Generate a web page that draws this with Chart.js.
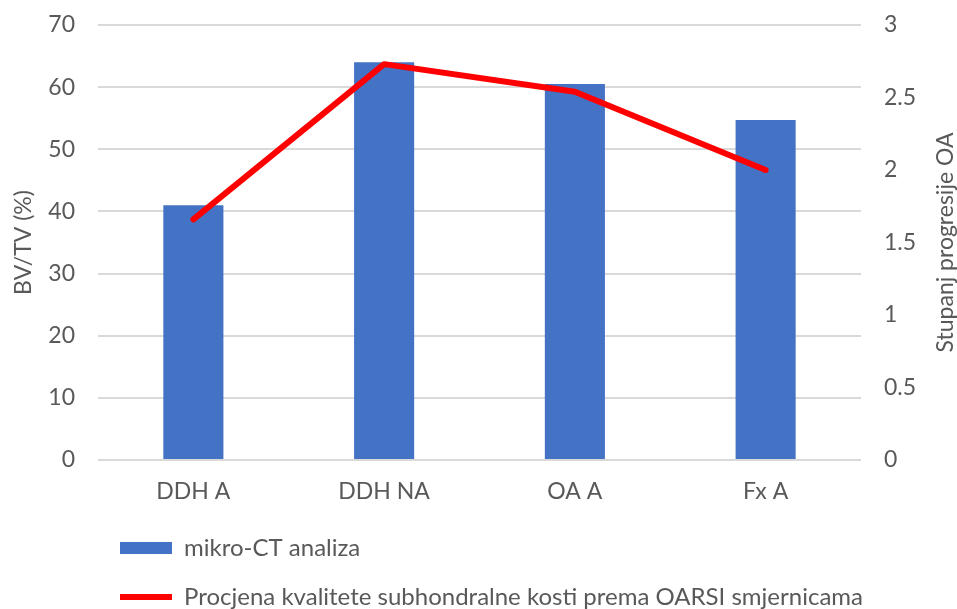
<!DOCTYPE html>
<html>
<head>
<meta charset="utf-8">
<title>BV/TV i stupanj progresije OA</title>
<script src="https://cdn.jsdelivr.net/npm/chart.js@4.4.1/dist/chart.umd.min.js"></script>
<style>
  html, body { margin: 0; padding: 0; background: #fff; }
  #wrap { width: 957px; height: 609px; }
</style>
</head>
<body>
<div id="wrap"><canvas id="myChart"></canvas></div>
<script>
// kategorije i vrijednosti
const kategorije = ['DDH A', 'DDH NA', 'OA A', 'Fx A'];
const bvtv = [41.0, 64.0, 60.5, 54.7];          // mikro-CT analiza, BV/TV (%)
const stupanjOA = [1.66, 2.73, 2.54, 2.0];      // OARSI procjena
const lijeviTickovi = [0, 10, 20, 30, 40, 50, 60, 70];
const desniTickovi = [0, 0.5, 1, 1.5, 2, 2.5, 3];

const siva = '#595959';
Chart.defaults.font.family = 'Lato';
Chart.defaults.font.size = 23;
Chart.defaults.color = siva;

// naslov desne osi (cita se odozdo prema gore)
const desniNaslov = {
    id: 'desniNaslov',
    afterDraw(chart) {
        const ctx = chart.ctx;
        const area = chart.chartArea;
        ctx.save();
        ctx.translate(946, (area.top + area.bottom) / 2);
        ctx.rotate(-Math.PI / 2);
        ctx.font = '23px Lato';
        ctx.fillStyle = siva;
        ctx.textAlign = 'center';
        ctx.textBaseline = 'middle';
        ctx.fillText('Stupanj progresije OA', 0, 0);
        ctx.restore();
    }
};

// pomak legende ispod grafa
const pomakLegende = {
    id: 'pomakLegende',
    afterLayout(chart) {
        chart.legend.left += 95;
        chart.legend.top += 10;
    }
};

// y osi bez dodatnog razmaka gore/dolje
function suziOs(s, sirina) {
    s.width = sirina;
    s.paddingTop = 0;
    s.paddingBottom = 0;
}

const ctx = document.getElementById('myChart');
const myChart = new Chart(ctx, {
    type: 'bar',
    data: {
        labels: kategorije,
        datasets: [{
            type: 'bar',
            label: 'mikro-CT analiza',
            data: bvtv,
            backgroundColor: '#4472C4',
            borderWidth: 0,
            categoryPercentage: 1,
            barPercentage: 0.315,
            yAxisID: 'y',
            order: 2
        }, {
            type: 'line',
            label: 'Procjena kvalitete subhondralne kosti prema OARSI smjernicama',
            data: stupanjOA,
            borderColor: '#FF0000',
            backgroundColor: '#FF0000',
            borderWidth: 6,
            borderCapStyle: 'round',
            borderJoinStyle: 'round',
            pointRadius: 0,
            tension: 0,
            yAxisID: 'y1',
            order: 1
        }]
    },
    options: {
        responsive: true,
        maintainAspectRatio: false,
        animation: false,
        layout: { padding: { top: 25, left: 0, right: 0, bottom: 0 } },
        plugins: {
            tooltip: { enabled: false },
            legend: {
                position: 'bottom',
                align: 'start',
                labels: {
                    usePointStyle: true,
                    pointStyleWidth: 52,
                    boxHeight: 12,
                    padding: 25,
                    color: siva,
                    font: { size: 24 },
                    sort: (a, b) => a.datasetIndex - b.datasetIndex,
                    generateLabels(chart) {
                        const items = Chart.defaults.plugins.legend.labels.generateLabels(chart);
                        items.forEach((it) => {
                            it.pointStyle = it.datasetIndex === 0 ? 'rect' : 'line';
                        });
                        return items;
                    }
                }
            }
        },
        scales: {
            x: {
                grid: { display: false, drawTicks: false },
                border: { display: false },
                ticks: { padding: 18, color: siva },
                afterFit: (s) => { s.height = 41; }
            },
            y: {
                position: 'left',
                min: 0,
                max: 70,
                afterBuildTicks: (s) => { s.ticks = lijeviTickovi.map((v) => ({ value: v })); },
                grid: { color: '#d9d9d9', lineWidth: 2, drawTicks: false },
                border: { display: false },
                ticks: { padding: 23, color: siva, callback: (v) => String(v) },
                title: { display: true, text: 'BV/TV (%)', color: siva, padding: { top: 10, bottom: 0 } },
                afterFit: (s) => suziOs(s, 98)
            },
            y1: {
                position: 'right',
                min: 0,
                max: 3,
                afterBuildTicks: (s) => { s.ticks = desniTickovi.map((v) => ({ value: v })); },
                grid: { display: false, drawTicks: false },
                border: { display: false },
                ticks: { padding: 23, color: siva, callback: (v) => String(v) },
                afterFit: (s) => suziOs(s, 96)
            }
        }
    },
    plugins: [desniNaslov, pomakLegende]
});
</script>
</body>
</html>
